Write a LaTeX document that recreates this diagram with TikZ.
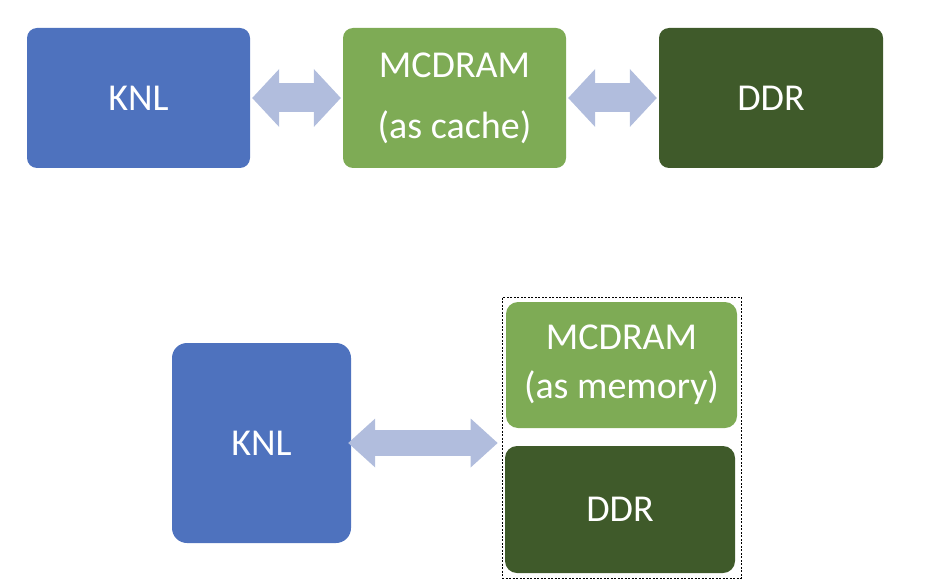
\documentclass[tikz,border=0pt]{standalone}
\usepackage{fontspec}
\setmainfont{Carlito}
\usetikzlibrary{positioning,arrows.meta}
\definecolor{knlblue}{HTML}{4E72BE}
\definecolor{mcgreen}{HTML}{7EAB55}
\definecolor{ddrgreen}{HTML}{3F5A2A}
\definecolor{linkblue}{HTML}{B1BDDD}

\begin{document}
\begin{tikzpicture}[x=1pt,y=-1pt,
    blk/.style={rounded corners=10pt, inner sep=0pt, text=white, align=center,
        font=\fontsize{38}{61}\selectfont},
    link/.style={draw=linkblue, line width=29pt,
        {Triangle[length=27pt 0,width=58pt 0,line width=0pt 0]}-{Triangle[length=27pt 0,width=58pt 0,line width=0pt 0]}},
    linkb/.style={draw=linkblue, line width=26pt,
        {Triangle[length=27pt 0,width=49pt 0,line width=0pt 0]}-{Triangle[length=27pt 0,width=49pt 0,line width=0pt 0]}}]
    \useasboundingbox (0,0) rectangle (925,588);
    % cache mode
    \node[blk, fill=knlblue, minimum width=223pt, minimum height=140pt] (knl) at (138.5,98) {KNL};
    \node[blk, fill=mcgreen, minimum width=223pt, minimum height=140pt] (mcd) at (454.5,98) {MCDRAM\\(as cache)};
    \node[blk, fill=ddrgreen, minimum width=224pt, minimum height=140pt] (ddr) at (771,98) {DDR};
    \draw[link, shorten <=2pt, shorten >=2pt] (knl) -- (mcd);
    \draw[link, shorten <=2pt, shorten >=2pt] (mcd) -- (ddr);
    % flat mode
    \node[blk, rounded corners=15pt, fill=knlblue, minimum width=179pt, minimum height=200pt] (knl_f) at (261.5,443) {KNL};
    \node[blk, rounded corners=12pt, fill=mcgreen, minimum width=231pt, minimum height=126pt,
        font=\fontsize{38}{49}\selectfont] (mcd_f) at (621.5,365) {MCDRAM\\(as memory)};
    \node[blk, rounded corners=12pt, fill=ddrgreen, minimum width=230pt, minimum height=127pt] (ddr_f) at (620,509.5) {DDR};
    \node[draw, dashed, line width=0.7pt, dash pattern=on 2pt off 1.5pt, inner sep=0pt,
        minimum width=239pt, minimum height=281pt] (mem) at (621.5,437.5) {};
    \draw[linkb, shorten <=-3pt, shorten >=4pt] (knl_f) -- (knl_f -| mem.west);
\end{tikzpicture}
\end{document}
